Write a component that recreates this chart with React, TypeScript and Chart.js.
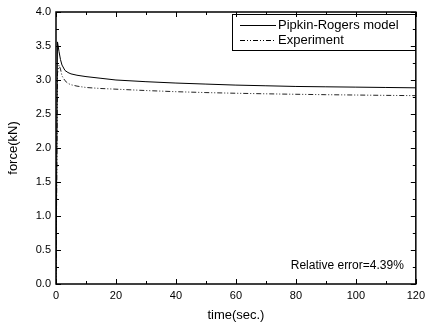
import React, { useEffect, useRef } from "react";
import { Chart, registerables } from "chart.js";

Chart.register(...registerables);

const timeSec = [0, 0.5, 1, 1.5, 2, 3, 4, 5, 7, 10, 15, 20, 30, 40, 50, 60, 70, 80, 90, 100, 110, 120];
const modelForce = [0, 3.56, 3.42, 3.3, 3.22, 3.14, 3.11, 3.09, 3.07, 3.05, 3.025, 3.0, 2.975, 2.955, 2.94, 2.925, 2.915, 2.905, 2.9, 2.895, 2.89, 2.885];
const expForce = [0, 3.1, 3.22, 3.16, 3.06, 2.99, 2.95, 2.93, 2.91, 2.89, 2.875, 2.865, 2.845, 2.828, 2.815, 2.805, 2.797, 2.79, 2.784, 2.779, 2.774, 2.77];
const seriesNames = ["Pipkin-Rogers model", "Experiment"];
const annotationText = "Relative error=4.39%";
const xTitle = "time(sec.)";
const yTitle = "force(kN)";

const FONT = "Arial, 'Liberation Sans', sans-serif";
const EXP_DASH = [5, 2, 1, 2, 1, 2];

const framePlugin = {
  id: "frame",
  afterDraw(chart: any) {
    const { ctx, chartArea: a, scales } = chart;
    const xs = scales.x;
    const ys = scales.y;
    ctx.save();
    ctx.strokeStyle = "#000";
    ctx.lineWidth = 1.5;
    ctx.strokeRect(a.left, a.top, a.right - a.left, a.bottom - a.top);
    ctx.lineWidth = 1;
    ctx.beginPath();
    for (let v = 0; v <= 120; v += 10) {
      const px = Math.round(xs.getPixelForValue(v)) + 0.5;
      const len = v % 20 === 0 ? 5 : 3;
      ctx.moveTo(px, a.bottom);
      ctx.lineTo(px, a.bottom - len);
      ctx.moveTo(px, a.top);
      ctx.lineTo(px, a.top + len);
    }
    for (let i = 0; i <= 16; i++) {
      const v = i * 0.25;
      const py = Math.round(ys.getPixelForValue(v)) + 0.5;
      const len = i % 2 === 0 ? 5 : 3;
      ctx.moveTo(a.left, py);
      ctx.lineTo(a.left + len, py);
      ctx.moveTo(a.right, py);
      ctx.lineTo(a.right - len, py);
    }
    ctx.stroke();

    // legend
    const lx = 232, ly = 14, lw = 183, lh = 36;
    ctx.lineWidth = 1;
    ctx.strokeRect(lx + 0.5, ly + 0.5, lw, lh);
    ctx.font = `13px ${FONT}`;
    ctx.fillStyle = "#000";
    ctx.textBaseline = "middle";
    ctx.textAlign = "left";
    ctx.beginPath();
    ctx.moveTo(lx + 8, ly + 11.5);
    ctx.lineTo(lx + 44, ly + 11.5);
    ctx.stroke();
    ctx.fillText(seriesNames[0], lx + 46, ly + 11);
    ctx.setLineDash(EXP_DASH);
    ctx.beginPath();
    ctx.moveTo(lx + 8, ly + 26.5);
    ctx.lineTo(lx + 44, ly + 26.5);
    ctx.stroke();
    ctx.setLineDash([]);
    ctx.fillText(seriesNames[1], lx + 46, ly + 26);

    ctx.font = `12px ${FONT}`;
    ctx.textAlign = "right";
    ctx.fillText(annotationText, a.right - 12, 266);
    ctx.restore();
  },
};

export default function App() {
  const ref = useRef<HTMLCanvasElement>(null);
  useEffect(() => {
    document.body.style.margin = "0";
    const canvas = ref.current!;
    const chart = new Chart(canvas, {
      type: "line",
      data: {
        datasets: [
          {
            label: seriesNames[0],
            data: timeSec.map((t, i) => ({ x: t, y: modelForce[i] })),
            borderColor: "#000",
            borderWidth: 1,
            pointRadius: 0,
            tension: 0,
          },
          {
            label: seriesNames[1],
            data: timeSec.map((t, i) => ({ x: t, y: expForce[i] })),
            borderColor: "#222",
            borderWidth: 1,
            borderDash: EXP_DASH,
            pointRadius: 0,
            tension: 0,
          },
        ],
      },
      options: {
        animation: false,
        responsive: false,
        maintainAspectRatio: false,
        layout: { padding: { top: 12, right: 9, left: 0, bottom: 0 } },
        plugins: { legend: { display: false }, tooltip: { enabled: false } },
        scales: {
          x: {
            type: "linear",
            min: 0,
            max: 120,
            grid: { display: false, drawTicks: false },
            border: { display: false },
            ticks: { stepSize: 20, color: "#000", font: { family: FONT, size: 11 }, padding: 5 },
            title: { display: true, text: xTitle, color: "#000", font: { family: FONT, size: 13 }, padding: { top: 6 } },
            afterFit: (s: any) => { s.height = 43; },
          },
          y: {
            min: 0,
            max: 4,
            grid: { display: false, drawTicks: false },
            border: { display: false },
            ticks: { stepSize: 0.5, color: "#000", font: { family: FONT, size: 11 }, padding: 5, callback: (v: any) => Number(v).toFixed(1) },
            title: { display: true, text: yTitle, color: "#000", font: { family: FONT, size: 13 }, padding: { top: 6, bottom: 0 } },
            afterFit: (s: any) => { s.width = 56; },
          },
        },
      },
      plugins: [framePlugin],
    });
    return () => chart.destroy();
  }, []);
  return <canvas ref={ref} width={430} height={327} style={{ display: "block" }} />;
}
